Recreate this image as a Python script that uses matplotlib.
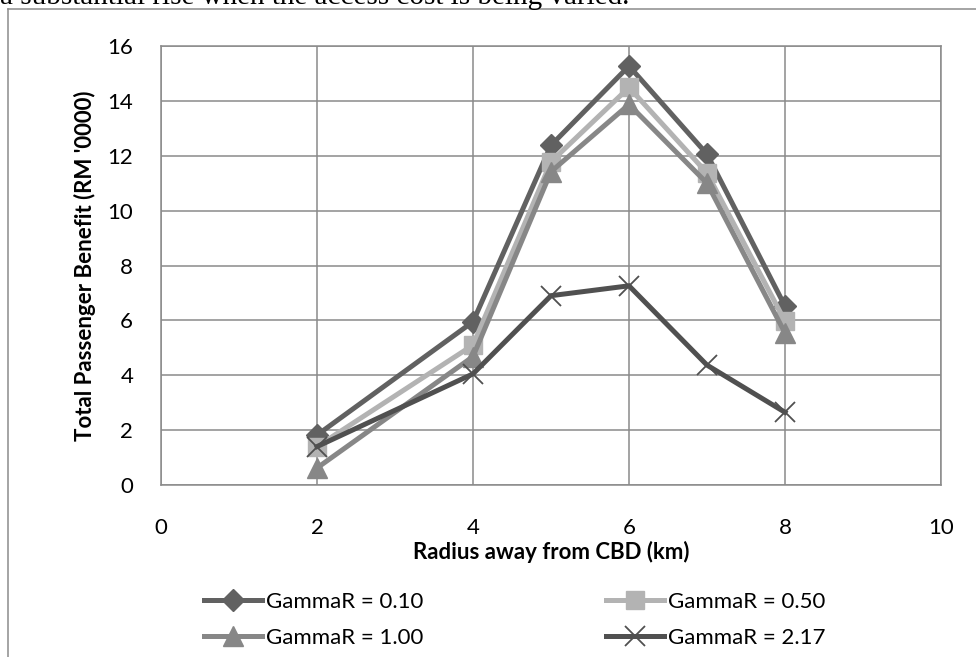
import matplotlib
matplotlib.use('Agg')
from matplotlib import pyplot as plt
from matplotlib.lines import Line2D

# data
radius = [2, 4, 5, 6, 7, 8]
gamma_010 = [1.82, 5.95, 12.38, 15.27, 12.06, 6.52]
gamma_050 = [1.40, 5.10, 11.78, 14.49, 11.37, 5.97]
gamma_100 = [0.62, 4.68, 11.42, 13.87, 11.00, 5.54]
gamma_217 = [1.40, 4.05, 6.90, 7.26, 4.37, 2.65]
labels = ['GammaR = 0.10', 'GammaR = 0.50', 'GammaR = 1.00', 'GammaR = 2.17']

plt.rcParams['font.family'] = ['Lato', 'DejaVu Sans']

W, H = 976, 657
fig = plt.figure(figsize=(W / 100, H / 100), dpi=100)
ax = fig.add_axes([161 / W, 1 - 485 / H, (941 - 161) / W, (485 - 46) / H])

grid_col = '#8a8a8a'

# series styles
styles = [
	dict(color='#616161', marker='D', markersize=11),
	dict(color='#b3b3b3', marker='s', markersize=13),
	dict(color='#878787', marker='^', markersize=14),
	dict(color='#505050', marker='x', markersize=15, markeredgewidth=1.3),
]
series = [gamma_010, gamma_050, gamma_100, gamma_217]

handles = []
for vals, lab, st in zip(series, labels, styles):
	h, = ax.plot(radius, vals, linewidth=3.6, label=lab, solid_joinstyle='miter',
				 markeredgecolor=st['color'], zorder=3, **st)
	handles.append(h)

ax.set_xlim(0, 10)
ax.set_ylim(0, 16)
ax.set_xticks(range(0, 11, 2))
ax.set_yticks(range(0, 17, 2))
ax.grid(True, color=grid_col, linewidth=1.1)
ax.set_axisbelow(True)
for sp in ax.spines.values():
	sp.set_color(grid_col)
	sp.set_linewidth(1.1)
ax.tick_params(length=0, labelsize=16, pad=20, colors='black')
ax.tick_params(axis='x', pad=24)

ax.set_xlabel('Radius away from CBD (km)', fontsize=16, fontweight='bold', labelpad=2)
ax.set_ylabel("Total Passenger Benefit (RM '0000)", fontsize=16, fontweight='bold', labelpad=8)

# legend is filled row by row in the reference
order = [0, 2, 1, 3]
fig.legend(handles=[handles[i] for i in order], loc='upper left',
		   bbox_to_anchor=(184 / W, 1 - 572 / H),
		   ncol=2, frameon=False, fontsize=16, handlelength=2.6, handletextpad=0.2,
		   columnspacing=8.2, labelspacing=0.71)

# outer frame of the embedded chart
fig.add_artist(Line2D([8 / W, 1.0], [1 - 9 / H, 1 - 9 / H], color='#8c8c8c', linewidth=1.1))
fig.add_artist(Line2D([8 / W, 8 / W], [0.0, 1 - 9 / H], color='#8c8c8c', linewidth=1.1))

# cut-off line of body text above the chart
fig.text(0.0, 1 - 4 / H, 'a substantial rise when the access cost is being varied.',
		 family='Liberation Serif', fontsize=21, va='baseline', ha='left')

fig.savefig('out.png', dpi=100)
